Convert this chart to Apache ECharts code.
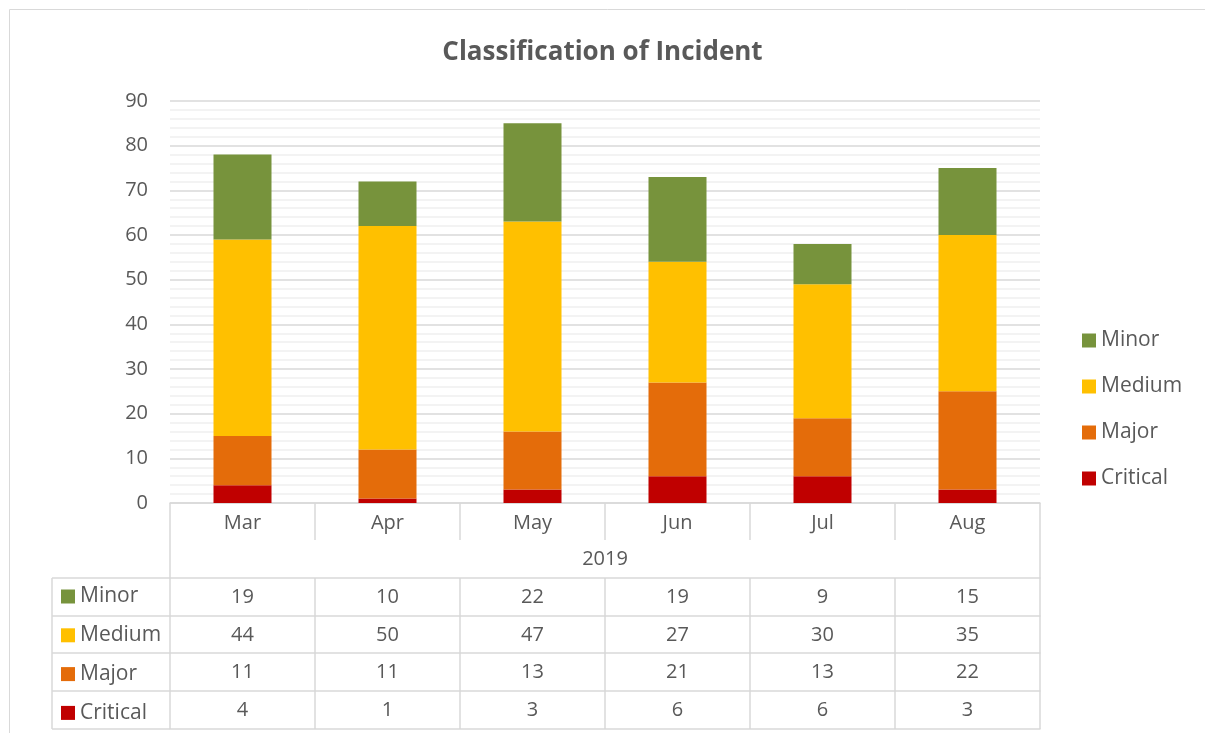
<!DOCTYPE html>
<html>
<head>
<meta charset="utf-8">
<script src="https://cdn.jsdelivr.net/npm/echarts@6/dist/echarts.min.js"></script>
<style>
  html, body { margin: 0; padding: 0; background: #fff; }
  #chart { width: 1205px; height: 733px; }
</style>
</head>
<body>
<div id="chart"></div>
<script>
var months = ['Mar', 'Apr', 'May', 'Jun', 'Jul', 'Aug'];
var yearLabel = ['2019'];
var minor = [19, 10, 22, 19, 9, 15];
var medium = [44, 50, 47, 27, 30, 35];
var major = [11, 11, 13, 21, 13, 22];
var critical = [4, 1, 3, 6, 6, 3];
var yTicks = [0, 90, 10];

var colors = { Minor: '#77933c', Medium: '#ffc000', Major: '#e46c0a', Critical: '#c00000' };
var tableRows = [['Minor', minor], ['Medium', medium], ['Major', major], ['Critical', critical]];

var txt = '#595959';
var lineCol = '#d9d9d9';
var font = 'Open Sans';

// layout of the plot and the data table under it
var gLeft = 170, gRight = 1040, gTop = 101, gBottom = 503;
var rowTop = [578, 616, 653, 691, 729];
var tableLeft = 52;

var myChart = echarts.init(document.getElementById('chart'));

var xAxes = [{
    type: 'category', data: months, gridIndex: 0, position: 'bottom',
    axisLine: { lineStyle: { color: lineCol, width: 1.5 } },
    axisTick: { show: true, interval: 0, length: 37, lineStyle: { color: lineCol, width: 1.5 } },
    axisLabel: { color: txt, fontSize: 20, fontFamily: font, margin: 10, interval: 0 }
}, {
    type: 'category', data: yearLabel, gridIndex: 0, position: 'bottom', offset: 37,
    axisLine: { show: false },
    axisTick: { show: true, interval: 0, length: 38, lineStyle: { color: lineCol, width: 1.5 } },
    axisLabel: { color: txt, fontSize: 20, fontFamily: font, margin: 9 }
}];

tableRows.forEach(function (r, k) {
    var vals = r[1];
    xAxes.push({
        type: 'category', data: months, gridIndex: 0, position: 'bottom',
        offset: rowTop[k] - gBottom,
        axisLine: { show: true, lineStyle: { color: lineCol, width: 1.5 } },
        axisTick: { show: true, interval: 0, length: rowTop[k + 1] - rowTop[k], lineStyle: { color: lineCol, width: 1.5 } },
        axisLabel: {
            color: txt, fontSize: 20, fontFamily: font, margin: 9, interval: 0,
            formatter: function (v, i) { return String(vals[i]); }
        }
    });
});
xAxes.push({
    type: 'category', data: months, gridIndex: 0, position: 'bottom',
    offset: rowTop[4] - gBottom,
    axisLine: { show: true, lineStyle: { color: lineCol, width: 1.5 } },
    axisTick: { show: false }, axisLabel: { show: false }
});

// left header column lines of the table
var graphics = [{
    type: 'rect', shape: { x: 9.5, y: 9.5, width: 1300, height: 800 },
    style: { fill: null, stroke: lineCol, lineWidth: 1 }, silent: true
}, {
    type: 'line', shape: { x1: tableLeft, y1: rowTop[0], x2: tableLeft, y2: rowTop[4] },
    style: { stroke: lineCol, lineWidth: 1.5 }
}];
rowTop.forEach(function (y) {
    graphics.push({
        type: 'line', shape: { x1: tableLeft, y1: y, x2: gLeft, y2: y },
        style: { stroke: lineCol, lineWidth: 1.5 }
    });
});

function bar(name, vals) {
    return {
        name: name, type: 'bar', stack: 'total', data: vals,
        barCategoryGap: '60%',
        itemStyle: { color: colors[name] }
    };
}

var legendText = { color: txt, fontSize: 21, lineHeight: 20, fontFamily: font };

var option = {
    animation: false,
    textStyle: { fontFamily: font },
    title: {
        text: 'Classification of Incident', left: 'center', top: 35,
        textStyle: { color: txt, fontSize: 26, fontWeight: 'bold', fontFamily: font }
    },
    legend: [{
        data: ['Minor', 'Medium', 'Major', 'Critical'],
        orient: 'vertical', left: 1082, top: 330, padding: 0,
        itemWidth: 14, itemHeight: 14, itemGap: 25, icon: 'rect',
        textStyle: legendText
    }, {
        data: ['Minor', 'Medium', 'Major', 'Critical'],
        orient: 'vertical', left: 61, top: 586, padding: 0,
        itemWidth: 14, itemHeight: 14, itemGap: 17.8, icon: 'rect',
        textStyle: legendText
    }],
    grid: { left: gLeft, right: 1205 - gRight, top: gTop, bottom: 733 - gBottom },
    xAxis: xAxes,
    yAxis: {
        type: 'value', min: yTicks[0], max: yTicks[1], interval: yTicks[2],
        axisLine: { show: false }, axisTick: { show: false },
        axisLabel: { color: txt, fontSize: 20, fontFamily: font, margin: 22 },
        splitLine: { lineStyle: { color: lineCol, width: 1.5 } },
        minorTick: { show: false, splitNumber: 5 },
        minorSplitLine: { show: true, lineStyle: { color: '#f0f0f0', width: 1.5 } }
    },
    graphic: graphics,
    series: [
        bar('Critical', critical),
        bar('Major', major),
        bar('Medium', medium),
        bar('Minor', minor)
    ]
};

myChart.setOption(option);
</script>
</body>
</html>
